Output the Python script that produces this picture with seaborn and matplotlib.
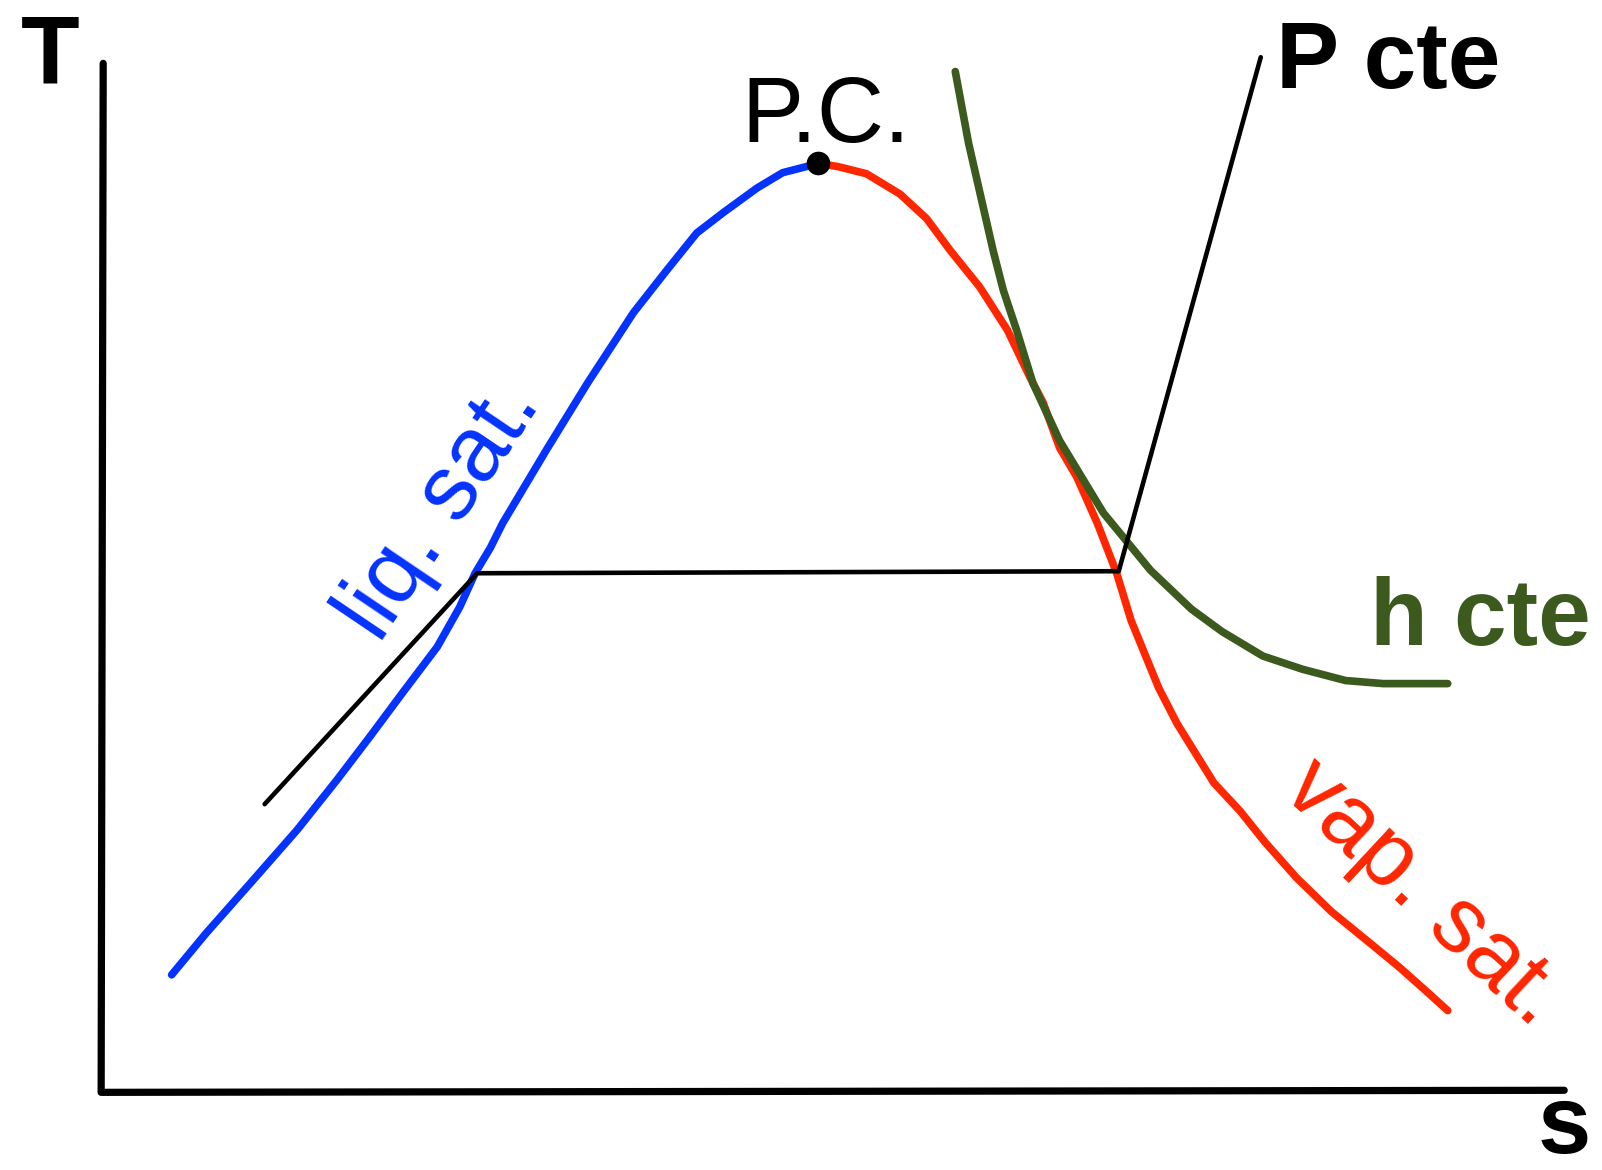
import matplotlib
matplotlib.use("Agg")
import matplotlib.pyplot as plt
import seaborn as sns

# %% Data (sketch coordinates: s to the right, T downward in picture units)
liq_s = [168, 202, 248, 291, 330, 362, 394, 428, 450, 465, 480, 492, 535,
         575, 620, 653, 682, 708, 741, 766, 801]
liq_T = [954, 913, 861, 812, 763, 721, 678, 633, 594, 561, 536, 512, 440,
         375, 306, 264, 228, 208, 184, 169, 160]

vap_s = [801, 820, 848, 881, 907, 930, 959, 986, 1008, 1021, 1037, 1054, 1074,
         1093, 1107, 1134, 1152, 1188, 1214, 1238, 1269, 1303, 1341, 1369, 1396, 1417]
vap_T = [160, 163, 170, 190, 214, 245, 281, 323, 369, 394, 438, 467, 512,
         561, 607, 673, 708, 766, 794, 824, 859, 892, 923, 946, 970, 989]

h_s = [935, 948, 972, 982, 995, 1011, 1037, 1080, 1126, 1166, 1196, 1236,
       1275, 1317, 1354, 1417]
h_T = [70, 140, 245, 284, 323, 375, 431, 502, 558, 596, 618, 642,
       655, 666, 669, 669]

p_s = [259, 467, 1095, 1234]
p_T = [787, 561, 559, 56]

axis_s = [101, 99, 1531]
axis_T = [62, 1069, 1067]

pc_s = [801]
pc_T = [160]

BLUE = '#0433FF'
RED = '#FF2600'
GREEN = '#3C5A1E'

# %% Plot
sns.set_style('white')
plt.rcParams['font.family'] = ['Liberation Sans', 'DejaVu Sans']
plt.rcParams['text.color'] = 'black'

fig = plt.figure(figsize=(16.02, 11.70), dpi=100)
ax = fig.add_axes([0, 0, 1, 1])

sns.lineplot(x=axis_s, y=axis_T, sort=False, estimator=None, color='black',
             linewidth=5.2, ax=ax)
sns.lineplot(x=liq_s, y=liq_T, sort=False, estimator=None, color=BLUE,
             linewidth=5.5, ax=ax)
sns.lineplot(x=vap_s, y=vap_T, sort=False, estimator=None, color=RED,
             linewidth=5.5, ax=ax)
sns.lineplot(x=h_s, y=h_T, sort=False, estimator=None, color=GREEN,
             linewidth=5.5, ax=ax)
sns.lineplot(x=p_s, y=p_T, sort=False, estimator=None, color='black',
             linewidth=3.3, ax=ax)
sns.scatterplot(x=pc_s, y=pc_T, color='black', s=290, linewidth=0, zorder=5, ax=ax)

ax.text(49, 82, 'T', fontsize=69, fontweight='bold', color='black',
        ha='center', va='baseline')
ax.text(1505, 1128, 's', fontsize=69, fontweight='bold', color='black',
        ha='left', va='baseline')
ax.text(726, 139, 'P.C.', fontsize=67, color='black', ha='left', va='baseline')
ax.text(1249, 86, 'P cte', fontsize=68, fontweight='bold', color='black',
        ha='left', va='baseline')
ax.text(1341, 631, 'h cte', fontsize=68, fontweight='bold', color=GREEN,
        ha='left', va='baseline')
ax.text(371, 631, 'liq. sat.', fontsize=66, color=BLUE, rotation=56,
        rotation_mode='anchor', ha='left', va='baseline')
ax.text(1253, 776, 'vap. sat.', fontsize=66, color=RED, rotation=-43,
        rotation_mode='anchor', ha='left', va='baseline')

ax.set_xlim(0, 1568)
ax.set_ylim(1145, 0)
ax.axis('off')

fig.savefig('out.png', dpi=100, facecolor='white')
